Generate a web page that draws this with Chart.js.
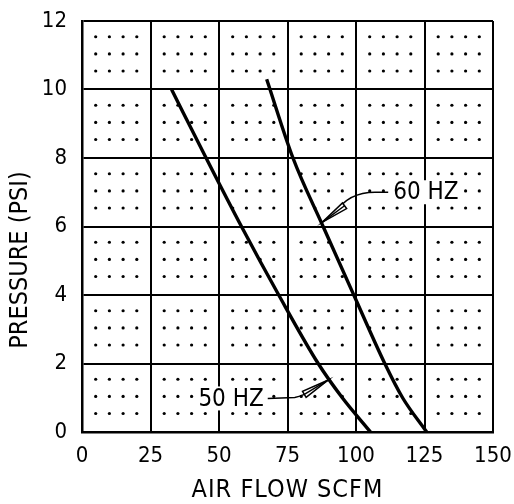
<!DOCTYPE html>
<html>
<head>
<meta charset="utf-8">
<script src="https://cdn.jsdelivr.net/npm/chart.js@4.4.0/dist/chart.umd.min.js"></script>
<style>
  html, body { margin: 0; padding: 0; background: #fff; overflow: hidden; }
  #wrap { width: 514px; height: 504px; position: relative; }
</style>
</head>
<body>
<div id="wrap"><canvas id="c"></canvas></div>
<script>
// ---- data ----
const xTicks = [0, 25, 50, 75, 100, 125, 150];
const yTicks = [0, 2, 4, 6, 8, 10, 12];
const xTitle = "AIR FLOW SCFM";
const yTitle = "PRESSURE (PSI)";

const hz50Flow = [32.7, 45.3, 58.2, 71.8, 86.2, 95.0, 105.3];
const hz50Pres = [10, 8, 6, 4, 2, 1, 0];
const hz60Flow = [67.4, 77.0, 88.0, 99.2, 110.5, 117.0, 125.8];
const hz60Pres = [10.3, 8, 6, 4, 2, 1, 0];

const noteLabels = ["60 HZ", "50 HZ"];
const noteTextX  = [125.5, 54.4];
const noteTextY  = [7.0, 0.98];
const noteTipX   = [87.6, 89.9];
const noteTipY   = [6.12, 1.52];

const FONT = "'DejaVu Sans Condensed', 'DejaVu Sans', sans-serif";

function pts(xs, ys) { return xs.map((x, i) => ({ x: x, y: ys[i] })); }

// decorative dot pattern inside each grid cell
const dotPlugin = {
  id: 'dots',
  beforeDatasetsDraw(chart) {
    const ctx = chart.ctx, xs = chart.scales.x, ys = chart.scales.y;
    ctx.save();
    ctx.fillStyle = '#000';
    for (let i = 0; i < xTicks.length - 1; i++) {
      const x0 = xs.getPixelForValue(xTicks[i]), x1 = xs.getPixelForValue(xTicks[i + 1]);
      for (let j = 0; j < yTicks.length - 1; j++) {
        const yb = ys.getPixelForValue(yTicks[j]), yt = ys.getPixelForValue(yTicks[j + 1]);
        [0.2, 0.4, 0.6, 0.8].forEach(fx => {
          [0.23, 0.48, 0.73].forEach(fy => {
            ctx.beginPath();
            ctx.arc(x0 + (x1 - x0) * fx, yt + (yb - yt) * fy, 1.6, 0, Math.PI * 2);
            ctx.fill();
          });
        });
      }
    }
    ctx.restore();
  }
};

function arrowHead(ctx, tx, ty, ang, len, wid) {
  const bx = tx + Math.cos(ang) * len, by = ty + Math.sin(ang) * len;
  const nx = -Math.sin(ang) * wid / 2, ny = Math.cos(ang) * wid / 2;
  ctx.beginPath();
  ctx.moveTo(tx, ty);
  ctx.lineTo(bx + nx, by + ny);
  ctx.lineTo(bx - nx, by - ny);
  ctx.closePath();
  ctx.fillStyle = '#fff';
  ctx.fill();
  ctx.stroke();
  ctx.beginPath();
  ctx.moveTo(tx, ty);
  ctx.lineTo(bx, by);
  ctx.stroke();
}

const notePlugin = {
  id: 'notes',
  afterDatasetsDraw(chart) {
    const ctx = chart.ctx, xs = chart.scales.x, ys = chart.scales.y;
    ctx.save();
    ctx.font = "24px " + FONT;
    ctx.textBaseline = 'middle';
    ctx.textAlign = 'center';
    ctx.strokeStyle = '#000';
    ctx.lineWidth = 1.5;
    for (let i = 0; i < noteLabels.length; i++) {
      const cx = xs.getPixelForValue(noteTextX[i]), cy = ys.getPixelForValue(noteTextY[i]);
      const tx = xs.getPixelForValue(noteTipX[i]), ty = ys.getPixelForValue(noteTipY[i]);
      const w = ctx.measureText(noteLabels[i]).width;
      ctx.fillStyle = '#fff';
      ctx.fillRect(cx - w / 2 - 3, cy - 12, w + 6, 24);
      ctx.fillStyle = '#000';
      ctx.fillText(noteLabels[i], cx, cy + 1);
      let ang, sx;
      ctx.beginPath();
      if (tx < cx) {
        sx = cx - w / 2 - 5;
        ctx.moveTo(sx, cy);
        ctx.lineTo(sx - 13, cy);
        ctx.quadraticCurveTo(sx - 40, cy, tx + 14, ty - 10);
        ctx.lineTo(tx, ty);
        ang = Math.atan2(-17, 23);
      } else {
        sx = cx + w / 2 + 4;
        ctx.moveTo(sx, cy);
        ctx.lineTo(sx + 27, cy - 1);
        ctx.quadraticCurveTo(sx + 35, cy - 2, tx - 12, ty + 8);
        ctx.lineTo(tx, ty);
        ang = Math.atan2(15, -25);
      }
      ctx.stroke();
      arrowHead(ctx, tx, ty, ang, 28, 7);
    }
    ctx.restore();
  }
};

const titlePlugin = {
  id: 'titles',
  afterDraw(chart) {
    const ctx = chart.ctx, a = chart.chartArea;
    ctx.save();
    ctx.fillStyle = '#000';
    ctx.font = "25px " + FONT;
    ctx.textAlign = 'center';
    ctx.textBaseline = 'middle';
    if ('letterSpacing' in ctx) ctx.letterSpacing = '1px';
    ctx.fillText(xTitle, (a.left + a.right) / 2, 490);
    if ('letterSpacing' in ctx) ctx.letterSpacing = '0px';
    ctx.translate(20, 260);
    ctx.rotate(-Math.PI / 2);
    ctx.fillText(yTitle, 0, 0);
    ctx.restore();
  }
};

new Chart(document.getElementById('c'), {
  type: 'scatter',
  data: {
    datasets: [
      { label: '50 HZ', data: pts(hz50Flow, hz50Pres), showLine: true, borderColor: '#000', borderWidth: 3.4, pointRadius: 0, cubicInterpolationMode: 'monotone', fill: false },
      { label: '60 HZ', data: pts(hz60Flow, hz60Pres), showLine: true, borderColor: '#000', borderWidth: 3.4, pointRadius: 0, cubicInterpolationMode: 'monotone', fill: false }
    ]
  },
  options: {
    responsive: true,
    maintainAspectRatio: false,
    animation: false,
    layout: { padding: { top: 21, right: 21, left: 0, bottom: 0 } },
    plugins: { legend: { display: false }, tooltip: { enabled: false } },
    scales: {
      x: {
        type: 'linear', min: 0, max: 150,
        afterFit(s) { s.height = 72; s.paddingLeft = 0; s.paddingRight = 0; },
        afterBuildTicks(s) { s.ticks = xTicks.map(v => ({ value: v })); },
        grid: { color: '#000', lineWidth: 2, drawTicks: false },
        border: { color: '#000', width: 2.5 },
        ticks: { color: '#000', font: { family: FONT, size: 22 }, padding: 11, maxRotation: 0 }
      },
      y: {
        type: 'linear', min: 0, max: 12,
        afterFit(s) { s.width = 82; s.paddingTop = 0; s.paddingBottom = 0; },
        afterBuildTicks(s) { s.ticks = yTicks.map(v => ({ value: v })); },
        grid: { color: '#000', lineWidth: 2, drawTicks: false },
        border: { color: '#000', width: 2.5 },
        ticks: { color: '#000', font: { family: FONT, size: 22 }, padding: 15 }
      }
    }
  },
  plugins: [dotPlugin, notePlugin, titlePlugin]
});
</script>
</body>
</html>
